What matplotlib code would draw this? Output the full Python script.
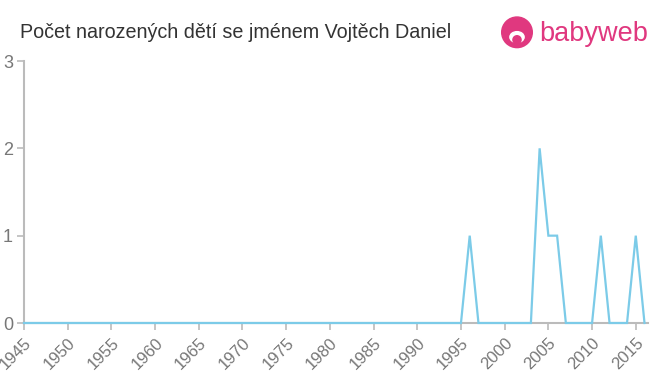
import matplotlib
matplotlib.use("Agg")
import matplotlib.pyplot as plt
from matplotlib.patches import Circle, Ellipse

years = list(range(1945, 2017))
nonzero = {1996: 1, 2004: 2, 2005: 1, 2006: 1, 2011: 1, 2015: 1}
counts = [nonzero.get(y, 0) for y in years]
xticks = list(range(1945, 2016, 5))
yticks = [0, 1, 2, 3]
title = "Počet narozených dětí se jménem Vojtěch Daniel"

plt.rcParams['font.family'] = ['Liberation Sans', 'DejaVu Sans']

fig = plt.figure(figsize=(6.6, 3.75), dpi=100)
ax = fig.add_axes([24/660, 1-323/375, (648-24)/660, (323-61)/375])
ax.plot(years, counts, color='#7ccbe8', lw=1.6, solid_joinstyle='miter', clip_on=False, zorder=3)
ax.set_xlim(1945, 2016.4)
ax.set_ylim(0, 3)
ax.set_xticks(xticks)
ax.set_xticklabels([str(x) for x in xticks], rotation=45, ha='right', va='top',
                   rotation_mode='anchor', fontsize=12, color='#777777')
ax.set_yticks(yticks)
ax.set_yticklabels([str(y) for y in yticks], fontsize=13, color='#777777')
for s in ['top', 'right']:
    ax.spines[s].set_visible(False)
for s in ['left', 'bottom']:
    ax.spines[s].set_color('#bbbbbb')
    ax.spines[s].set_linewidth(1.5)
ax.tick_params(axis='both', colors='#bbbbbb', length=5, width=1.2, labelcolor='#777777')
ax.tick_params(axis='x', pad=4)
ax.tick_params(axis='y', pad=3)

fig.text(20/660, 1-32/375, title, fontsize=14.2, color='#333333', va='center', ha='left')

# logo
pink = '#e0387f'
lax = fig.add_axes([500/660, 1-50/375, 34/660, 34/375])
lax.set_xlim(0, 1); lax.set_ylim(0, 1); lax.set_aspect('equal', adjustable='datalim'); lax.axis('off')
lax.add_patch(Circle((0.5, 0.52), 0.45, color=pink))
lax.add_patch(Ellipse((0.5, 0.38), 0.42, 0.32, color='white'))
lax.add_patch(Circle((0.5, 0.3), 0.12, color=pink))
fig.text(539/660, 1-34/375, 'babyweb', fontsize=19.5, color=pink, va='center', ha='left')

fig.savefig('out.png', dpi=100)
